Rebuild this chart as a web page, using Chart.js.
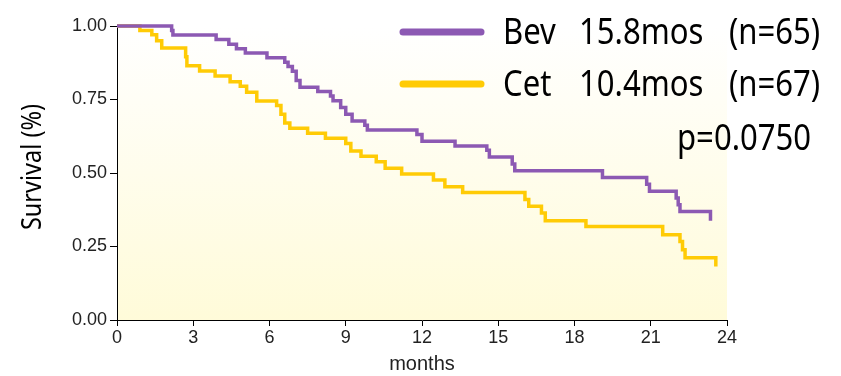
<!DOCTYPE html>
<html>
<head>
<meta charset="utf-8">
<script src="https://cdn.jsdelivr.net/npm/chart.js@4.4.1/dist/chart.umd.min.js"></script>
<style>
  html, body { margin: 0; padding: 0; background: #fff; }
  #wrap { width: 841px; height: 376px; }
</style>
</head>
<body>
<div id="wrap"><canvas id="kmChart" width="841" height="376"></canvas></div>
<script>
// Kaplan-Meier Werte
const bevTime = [0, 2.15, 2.2, 3.9, 4.4, 4.7, 5.05, 5.9, 6.6, 6.73, 6.9, 7.05, 7.2, 7.9, 8.4, 8.5, 8.8, 9.0, 9.25, 9.75, 9.85, 11.8, 12.0, 13.3, 14.55, 14.65, 15.55, 15.65, 19.1, 20.84, 20.95, 22.0, 22.08, 22.15, 23.35];
const bevSurv = [1.0, 0.985, 0.969, 0.954, 0.938, 0.923, 0.908, 0.892, 0.877, 0.862, 0.846, 0.815, 0.792, 0.777, 0.762, 0.746, 0.723, 0.70, 0.677, 0.662, 0.646, 0.631, 0.608, 0.592, 0.577, 0.554, 0.531, 0.508, 0.485, 0.462, 0.438, 0.415, 0.392, 0.369, 0.338];

const cetTime = [0, 0.9, 1.37, 1.56, 1.76, 2.7, 2.75, 3.25, 3.86, 4.45, 4.85, 5.1, 5.5, 6.28, 6.45, 6.6, 6.8, 7.5, 8.2, 9.0, 9.2, 9.6, 10.2, 10.55, 11.2, 12.45, 12.9, 13.6, 16.05, 16.2, 16.7, 16.85, 18.45, 21.47, 22.15, 22.25, 22.35, 23.56];
const cetSurv = [1.0, 0.985, 0.97, 0.95, 0.925, 0.895, 0.865, 0.847, 0.83, 0.81, 0.795, 0.775, 0.745, 0.73, 0.70, 0.67, 0.652, 0.635, 0.618, 0.60, 0.575, 0.557, 0.538, 0.516, 0.497, 0.476, 0.453, 0.434, 0.41, 0.387, 0.364, 0.338, 0.318, 0.29, 0.267, 0.239, 0.212, 0.182];

const xTicks = [0, 3, 6, 9, 12, 15, 18, 21, 24];
const yTicks = [0, 0.25, 0.5, 0.75, 1.0];

const legendRows = [
    { name: 'Bev', median: '15.8mos', n: '(n=65)', color: '#8c59b3' },
    { name: 'Cet', median: '10.4mos', n: '(n=67)', color: '#ffcb05' }
];
const pText = 'p=0.0750';
const yTitle = 'Survival (%)';

// keine schmale Schrift installiert -> Noto Sans horizontal stauchen
const narrowFont = "'Noto Sans', sans-serif";
const squeeze = 0.84;

const toPoints = (t, s) => t.map((x, i) => ({ x: x, y: s[i] }));

const drawNarrow = (ctx, text, x, y) => {
    ctx.save();
    ctx.translate(x, y);
    ctx.scale(squeeze, 1);
    ctx.fillText(text, 0, 0);
    ctx.restore();
};

// Hintergrund der Plotfläche (weiss -> hellgelb)
const bgPlugin = {
    id: 'plotBg',
    beforeDraw(chart) {
        const { ctx, chartArea } = chart;
        const g = ctx.createLinearGradient(0, chartArea.top, 0, chartArea.bottom);
        g.addColorStop(0, '#ffffff');
        g.addColorStop(1, '#fffbd9');
        ctx.save();
        ctx.fillStyle = g;
        ctx.fillRect(chartArea.left, chartArea.top, chartArea.right - chartArea.left, chartArea.bottom - chartArea.top);
        ctx.restore();
    }
};

// eigene Legende oben rechts + y-Achsentitel
const legendPlugin = {
    id: 'kmLegend',
    afterDraw(chart) {
        const ctx = chart.ctx;
        const area = chart.chartArea;
        ctx.save();
        ctx.font = '37px ' + narrowFont;
        ctx.fillStyle = '#000';
        ctx.textBaseline = 'alphabetic';
        legendRows.forEach((row, i) => {
            const y = 32 + i * 52;
            ctx.strokeStyle = row.color;
            ctx.lineWidth = 7;
            ctx.lineCap = 'round';
            ctx.beginPath();
            ctx.moveTo(403, y);
            ctx.lineTo(481, y);
            ctx.stroke();
            drawNarrow(ctx, row.name, 503, y + 12);
            drawNarrow(ctx, row.median, 579, y + 12);
            drawNarrow(ctx, row.n, 729, y + 12);
        });
        drawNarrow(ctx, pText, 677, 150);

        // y-Titel gedreht
        ctx.font = '28px ' + narrowFont;
        ctx.textAlign = 'center';
        ctx.textBaseline = 'middle';
        ctx.translate(33, (area.top + area.bottom) / 2 - 6);
        ctx.rotate(-Math.PI / 2);
        ctx.scale(squeeze, 1);
        ctx.fillText(yTitle, 0, 0);
        ctx.restore();
    }
};

const ctx = document.getElementById('kmChart').getContext('2d');
new Chart(ctx, {
    type: 'line',
    data: {
        datasets: [{
            label: 'Bev',
            data: toPoints(bevTime, bevSurv),
            borderColor: legendRows[0].color,
            borderWidth: 3.5,
            stepped: true,
            pointRadius: 0,
            fill: false,
            clip: 6
        }, {
            label: 'Cet',
            data: toPoints(cetTime, cetSurv),
            borderColor: legendRows[1].color,
            borderWidth: 3.5,
            stepped: true,
            pointRadius: 0,
            fill: false,
            clip: 6
        }]
    },
    options: {
        responsive: false,
        animation: false,
        layout: { padding: { top: 26, right: 114, left: 0, bottom: 0 } },
        plugins: {
            legend: { display: false },
            tooltip: { enabled: false }
        },
        scales: {
            x: {
                type: 'linear',
                min: 0,
                max: 24,
                afterBuildTicks: (axis) => { axis.ticks = xTicks.map(v => ({ value: v })); },
                afterFit: (axis) => { axis.height = 56; },
                ticks: { color: '#222', font: { family: 'Liberation Sans', size: 18 }, padding: 1, maxRotation: 0 },
                grid: { display: true, drawOnChartArea: false, drawTicks: true, tickLength: 6, color: '#000' },
                border: { display: true, color: '#000', width: 1 },
                title: { display: true, text: 'months', color: '#222', font: { family: 'Liberation Sans', size: 20 }, padding: { top: 0, bottom: 0 } }
            },
            y: {
                min: 0,
                max: 1,
                afterBuildTicks: (axis) => { axis.ticks = yTicks.map(v => ({ value: v })); },
                afterFit: (axis) => { axis.width = 117; },
                ticks: {
                    color: '#222',
                    font: { family: 'Liberation Sans', size: 18 },
                    padding: 3,
                    callback: (v) => Number(v).toFixed(2)
                },
                grid: { display: true, drawOnChartArea: false, drawTicks: true, tickLength: 7, color: '#000' },
                border: { display: true, color: '#000', width: 1 }
            }
        }
    },
    plugins: [bgPlugin, legendPlugin]
});
</script>
</body>
</html>
